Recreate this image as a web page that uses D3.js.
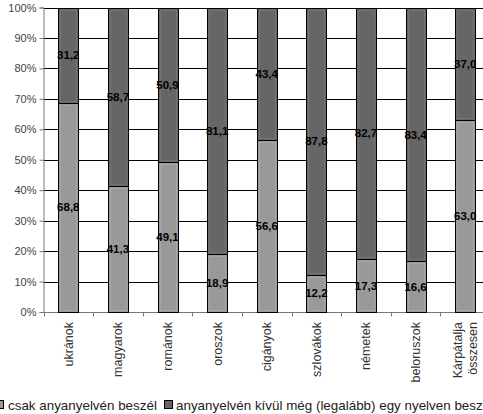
<!DOCTYPE html>
<html>
<head>
<meta charset="utf-8">
<script src="https://cdn.jsdelivr.net/npm/d3@7"></script>
<style>
  html, body { margin: 0; padding: 0; background: #fff; overflow: hidden; }
  svg { display: block; font-family: Arial, "Liberation Sans", sans-serif; }
</style>
</head>
<body>
<svg id="chart" width="483" height="414"></svg>
<script>
// Nemzetiségek nyelvtudása (%)
const categories = ["ukránok", "magyarok", "románok", "oroszok", "cigányok", "szlovákok", "németek", "beloruszok", "Kárpátalja összesen"];
const onlyMother = [68.8, 41.3, 49.1, 18.9, 56.6, 12.2, 17.3, 16.6, 63.0];
const otherLang  = [31.2, 58.7, 50.9, 81.1, 43.4, 87.8, 82.7, 83.4, 37.0];
const seriesNames = ["csak anyanyelvén beszél", "anyanyelvén kívül még (legalább) egy nyelven beszél"];
const yTicks = [0, 10, 20, 30, 40, 50, 60, 70, 80, 90, 100];

const colors = ["#999999", "#666666"];

const svg = d3.select("#chart");
const margin = { left: 43.5, top: 7.5, right: -7, bottom: 102 };
const W = 483, H = 414;
const plotBottom = H - margin.bottom;   // 0%
const plotRight = W - margin.right;

const xBands = d3.scaleBand().domain(categories).range([margin.left, plotRight]);
const y = d3.scaleLinear().domain([0, 100]).range([plotBottom, margin.top]);

// horizontal gridlines
svg.append("g").selectAll("line").data(yTicks.filter(d => d > 0)).join("line")
  .attr("x1", margin.left).attr("x2", plotRight)
  .attr("y1", d => Math.round(y(d)) + 0.5).attr("y2", d => Math.round(y(d)) + 0.5)
  .attr("stroke", "#000").attr("stroke-width", 1);

// y axis
const yAxis = svg.append("g").attr("transform", `translate(${margin.left},0)`)
  .call(d3.axisLeft(y).tickValues(yTicks).tickFormat(d => d + "%").tickSize(4).tickPadding(3));
yAxis.select(".domain").attr("stroke", "#777");
yAxis.selectAll(".tick line").attr("stroke", "#777");
yAxis.selectAll(".tick text").attr("font-size", 11).attr("fill", "#444")
  .attr("font-family", "Arial, 'Liberation Sans', sans-serif");

// x axis: ticks at band edges
const xAxisG = svg.append("g").attr("transform", `translate(0,${Math.round(plotBottom) + 0.5})`);
xAxisG.append("line").attr("x1", margin.left).attr("x2", plotRight).attr("stroke", "#777");
xAxisG.selectAll("line.tk").data(categories).join("line").attr("class", "tk")
  .attr("x1", d => Math.round(xBands(d)) + 0.5).attr("x2", d => Math.round(xBands(d)) + 0.5)
  .attr("y1", 0).attr("y2", 4).attr("stroke", "#777");

// stacked bars
const stackData = categories.map((c, i) => ({ cat: c, s0: onlyMother[i], s1: otherLang[i] }));
const stacked = d3.stack().keys(["s0", "s1"])(stackData);

const bw = 20;
const barX = d => Math.round(xBands(d) + xBands.bandwidth() / 2 - bw / 2) + 0.5;

stacked.forEach((layer, li) => {
  const g = svg.append("g");
  g.selectAll("rect").data(layer).join("rect")
    .attr("x", d => barX(d.data.cat))
    .attr("width", bw)
    .attr("y", d => Math.round(y(d[1])) + 0.5)
    .attr("height", d => Math.round(y(d[0])) - Math.round(y(d[1])))
    .attr("fill", colors[li])
    .attr("stroke", "#000").attr("stroke-width", 1);
  // faint inner bevel
  g.selectAll("rect.in").data(layer).join("rect").attr("class", "in")
    .attr("x", d => barX(d.data.cat) + 2)
    .attr("width", bw - 4)
    .attr("y", d => Math.round(y(d[1])) + 2.5)
    .attr("height", d => Math.max(0, Math.round(y(d[0])) - Math.round(y(d[1])) - 4))
    .attr("fill", "none")
    .attr("stroke", li === 0 ? "#a6a6a6" : "#737373").attr("stroke-width", 1);
});

// value labels
stacked.forEach(layer => {
  svg.append("g").selectAll("text").data(layer).join("text")
    .attr("x", d => xBands(d.data.cat) + xBands.bandwidth() / 2)
    .attr("y", d => y((d[0] + d[1]) / 2))
    .attr("dy", "0.35em")
    .attr("text-anchor", "middle")
    .attr("font-size", 11.5).attr("font-weight", "bold").attr("fill", "#000")
    .text(d => (d[1] - d[0]).toFixed(1).replace(".", ","));
});

// category labels (rotated)
const catG = svg.append("g");
categories.forEach(c => {
  const cx = xBands(c) + xBands.bandwidth() / 2;
  const words = c === "Kárpátalja összesen" ? ["Kárpátalja", "összesen"] : [c];
  words.forEach((w, k) => {
    const off = (k - (words.length - 1) / 2) * 15;
    catG.append("text")
      .attr("transform", `translate(${cx + off + 4.5},${plotBottom + 10}) rotate(-90)`)
      .attr("text-anchor", "end")
      .attr("font-size", 12.5).attr("fill", "#333")
      .text(w);
  });
});

// legend
const legend = svg.append("g");
const legendY = 405;
const items = [{ x: -5, tx: 8 }, { x: 164, tx: 176 }];
items.forEach((it, i) => {
  legend.append("rect").attr("x", it.x + 0.5).attr("y", legendY - 4.5).attr("width", 8).attr("height", 8)
    .attr("fill", colors[i]).attr("stroke", "#000");
  legend.append("text").attr("x", it.tx).attr("y", legendY).attr("dy", "0.35em")
    .attr("font-size", 13.4).attr("fill", "#222").text(seriesNames[i]);
});
</script>
</body>
</html>
